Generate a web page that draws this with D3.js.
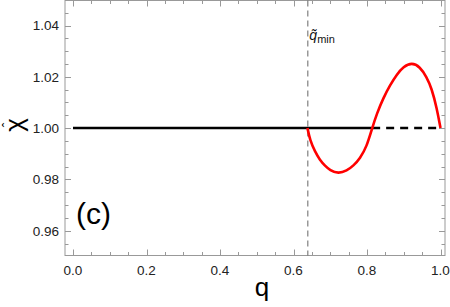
<!DOCTYPE html>
<html>
<head>
<meta charset="utf-8">
<script src="https://cdn.jsdelivr.net/npm/d3@7"></script>
<style>
  body { margin: 0; background: #fff; }
</style>
</head>
<body>
<div id="chart"></div>
<script>
// values
var xTicks = [0.0, 0.2, 0.4, 0.6, 0.8, 1.0];
var yTicks = [0.96, 0.98, 1.00, 1.02, 1.04];
var qMin = 0.639;      // dashed vertical marker
var qCross = 0.814;    // where the red curve crosses 1 again
var baseline = 1.0;

// red branch (q, chi)
var redQ   = [0.638, 0.645, 0.6585, 0.672, 0.686, 0.699, 0.722, 0.745, 0.763, 0.781, 0.799, 0.814, 0.827, 0.844, 0.863, 0.881, 0.899, 0.922, 0.944, 0.962, 0.976, 0.990, 1.000];
var redChi = [1.000, 0.9953, 0.9908, 0.9875, 0.9853, 0.9836, 0.9822, 0.9834, 0.9853, 0.9882, 0.9927, 1.000, 1.0057, 1.0116, 1.0168, 1.0209, 1.0239, 1.0256, 1.0239, 1.0200, 1.0155, 1.0077, 1.000];

var svgWidth = 450;
var svgHeight = 307;

var frame = { left: 65, right: 445, top: 0.5, bottom: 255.5 };

var svg = d3.select("#chart")
  .append("svg")
  .attr("width", svgWidth)
  .attr("height", svgHeight)
  .attr("font-family", "'Liberation Sans', Arial, sans-serif");

var xScale = d3.scaleLinear()
  .domain([0, 1])
  .range([73, 440.5]);

var yScale = d3.scaleLinear()
  .domain([0.96, 1.04])
  .range([230.7, 25.5]);

// minor ticks
var xMinor = d3.range(0, 1.0001, 0.05);
var yMinor = d3.range(0.95, 1.0501, 0.005);

var tickColor = "#999";

// frame
svg.append("rect")
  .attr("x", frame.left)
  .attr("y", frame.top)
  .attr("width", frame.right - frame.left)
  .attr("height", frame.bottom - frame.top)
  .attr("fill", "none")
  .attr("stroke", tickColor)
  .attr("stroke-width", 1);

var ticks = svg.append("g").attr("stroke", tickColor).attr("stroke-width", 1);

xMinor.forEach(function(v) {
  var major = xTicks.some(function(t) { return Math.abs(t - v) < 1e-6; });
  var len = major ? 6 : 3.5;
  var x = Math.round(xScale(v)) + 0.5;
  ticks.append("line").attr("x1", x).attr("x2", x).attr("y1", frame.bottom).attr("y2", frame.bottom - len);
  ticks.append("line").attr("x1", x).attr("x2", x).attr("y1", frame.top).attr("y2", frame.top + len);
});

yMinor.forEach(function(v) {
  var major = yTicks.some(function(t) { return Math.abs(t - v) < 1e-6; });
  var len = major ? 6 : 3.5;
  var y = Math.round(yScale(v)) + 0.5;
  if (y < frame.top || y > frame.bottom) return;
  ticks.append("line").attr("x1", frame.left).attr("x2", frame.left + len).attr("y1", y).attr("y2", y);
  ticks.append("line").attr("x1", frame.right).attr("x2", frame.right - len).attr("y1", y).attr("y2", y);
});

// tick labels
svg.selectAll(".xlab")
  .data(xTicks)
  .enter()
  .append("text")
  .attr("x", d => xScale(d))
  .attr("y", 275)
  .attr("text-anchor", "middle")
  .attr("font-size", 13.5)
  .attr("fill", "#222")
  .text(d => d3.format(".1f")(d));

svg.selectAll(".ylab")
  .data(yTicks)
  .enter()
  .append("text")
  .attr("x", 59)
  .attr("y", d => yScale(d) + 4.8)
  .attr("text-anchor", "end")
  .attr("font-size", 13.5)
  .attr("fill", "#222")
  .text(d => d3.format(".2f")(d));

// vertical dashed marker
svg.append("line")
  .attr("x1", xScale(qMin))
  .attr("x2", xScale(qMin))
  .attr("y1", frame.top)
  .attr("y2", frame.bottom)
  .attr("stroke", "#666")
  .attr("stroke-width", 1)
  .attr("stroke-dasharray", "6,4");

// black baseline: solid then dashed
svg.append("line")
  .attr("x1", xScale(0))
  .attr("x2", xScale(qCross))
  .attr("y1", yScale(baseline))
  .attr("y2", yScale(baseline))
  .attr("stroke", "#000")
  .attr("stroke-width", 2.5);

svg.append("line")
  .attr("x1", xScale(qCross))
  .attr("x2", xScale(1))
  .attr("y1", yScale(baseline))
  .attr("y2", yScale(baseline))
  .attr("stroke", "#000")
  .attr("stroke-width", 2.5)
  .attr("stroke-dasharray", "8,6");

// red curve
var redData = redQ.map((q, i) => ({ q: q, chi: redChi[i] }));
var line = d3.line()
  .x(d => xScale(d.q))
  .y(d => yScale(d.chi))
  .curve(d3.curveBasis);

svg.append("path")
  .datum(redData)
  .attr("d", line)
  .attr("fill", "none")
  .attr("stroke", "#f00")
  .attr("stroke-width", 2.6);

// annotation q~_min
var ann = svg.append("text")
  .attr("x", xScale(qMin) + 1.5)
  .attr("y", 40)
  .attr("font-size", 14)
  .attr("fill", "#111");
ann.append("tspan").attr("font-style", "italic").text("q\u0303");
ann.append("tspan").attr("font-size", 11).attr("dy", 3).text("min");

// panel label
svg.append("text")
  .attr("x", 76)
  .attr("y", 224)
  .attr("font-size", 30)
  .attr("fill", "#000")
  .text("(c)");

// axis labels
svg.append("text")
  .attr("x", 262)
  .attr("y", 296)
  .attr("text-anchor", "middle")
  .attr("font-size", 26)
  .attr("fill", "#000")
  .text("q");

var ylab = svg.append("g")
  .attr("transform", "translate(20,125) rotate(-90)");
ylab.append("text")
  .attr("x", 0)
  .attr("y", 3)
  .attr("text-anchor", "middle")
  .attr("font-size", 26)
  .attr("fill", "#000")
  .text("\u03C7");
ylab.append("text")
  .attr("x", 0)
  .attr("y", -7)
  .attr("text-anchor", "middle")
  .attr("font-size", 14)
  .attr("fill", "#000")
  .text("\u02C6");
</script>
</body>
</html>
